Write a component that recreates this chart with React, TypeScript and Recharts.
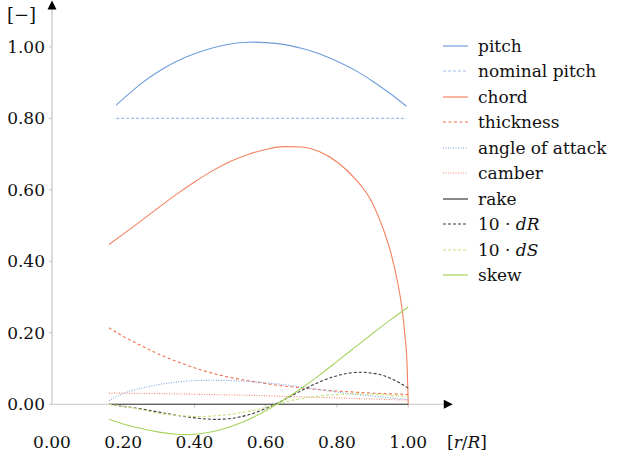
import React from 'react';
import { LineChart, Line, XAxis, YAxis, ReferenceLine, ReferenceDot, Legend } from 'recharts';

const FONT = '"DejaVu Serif", serif';
const FS = 17;
const AXIS = '#c4c4c4';

const xTicks = [0, 0.2, 0.4, 0.6, 0.8, 1.0];
const yTicks = [0, 0.2, 0.4, 0.6, 0.8, 1.0];

// pitch distribution
const rPitch = [0.18, 0.25, 0.3, 0.35, 0.4, 0.45, 0.5, 0.55, 0.6, 0.65, 0.7, 0.75, 0.8, 0.85, 0.9, 0.95, 0.995];
const pitch = [0.837, 0.897, 0.932, 0.96, 0.981, 0.997, 1.008, 1.013, 1.012, 1.007, 0.996, 0.981, 0.96, 0.935, 0.904, 0.869, 0.834];
const rNominal = [0.18, 0.995];
const nominalPitch = [0.8, 0.8];

// chord
const rChord = [0.16, 0.2, 0.25, 0.3, 0.35, 0.4, 0.45, 0.5, 0.55, 0.6, 0.65, 0.7, 0.75, 0.8, 0.85, 0.9, 0.93, 0.95, 0.97, 0.98, 0.99, 0.997, 1.0];
const chord = [0.447, 0.476, 0.513, 0.551, 0.588, 0.622, 0.653, 0.679, 0.699, 0.713, 0.721, 0.72, 0.707, 0.678, 0.632, 0.562, 0.49, 0.428, 0.342, 0.285, 0.2, 0.105, 0];

// section data
const rSection = [0.16, 0.2, 0.25, 0.3, 0.35, 0.4, 0.45, 0.5, 0.55, 0.6, 0.65, 0.7, 0.75, 0.8, 0.85, 0.9, 0.95, 1.0];
const thickness = [0.214, 0.19, 0.164, 0.14, 0.12, 0.102, 0.087, 0.075, 0.066, 0.058, 0.051, 0.046, 0.041, 0.037, 0.034, 0.031, 0.029, 0.027];
const angleOfAttack = [0.01, 0.03, 0.045, 0.055, 0.062, 0.066, 0.067, 0.066, 0.064, 0.06, 0.055, 0.048, 0.041, 0.034, 0.028, 0.023, 0.018, 0.013];
const camber = [0.031, 0.031, 0.03, 0.03, 0.029, 0.028, 0.027, 0.026, 0.025, 0.024, 0.022, 0.021, 0.019, 0.018, 0.016, 0.015, 0.013, 0.012];
const rake = [0, 0, 0, 0, 0, 0, 0, 0, 0, 0, 0, 0, 0, 0, 0, 0, 0, 0];
const dR10 = [0.0, -0.006, -0.013, -0.022, -0.031, -0.038, -0.042, -0.04, -0.03, -0.012, 0.012, 0.038, 0.062, 0.08, 0.089, 0.087, 0.073, 0.045];
const dS10 = [0.0, -0.006, -0.015, -0.025, -0.031, -0.034, -0.033, -0.028, -0.02, -0.009, 0.005, 0.016, 0.023, 0.027, 0.029, 0.028, 0.025, 0.02];
const skew = [-0.042, -0.055, -0.068, -0.078, -0.084, -0.084, -0.077, -0.063, -0.043, -0.018, 0.012, 0.045, 0.081, 0.12, 0.159, 0.198, 0.236, 0.272];

const zip = (rs: number[], vs: number[]) => rs.map((r, i) => ({ r, v: vs[i] }));

const series = [
  { name: 'pitch', label: <>pitch</>, color: '#6f9ddd', dash: undefined, curve: 'natural', data: zip(rPitch, pitch) },
  { name: 'nominal pitch', label: <>nominal pitch</>, color: '#9fc0ec', dash: '3 2', curve: 'linear', data: zip(rNominal, nominalPitch) },
  { name: 'chord', label: <>chord</>, color: '#f5825f', dash: undefined, curve: 'monotone', data: zip(rChord, chord) },
  { name: 'thickness', label: <>thickness</>, color: '#f0704c', dash: '3 2.5', curve: 'natural', data: zip(rSection, thickness) },
  { name: 'angle of attack', label: <>angle of attack</>, color: '#7ea8e4', dash: '1 1.5', curve: 'natural', data: zip(rSection, angleOfAttack) },
  { name: 'camber', label: <>camber</>, color: '#f48a6c', dash: '1 1.5', curve: 'natural', data: zip(rSection, camber) },
  { name: 'rake', label: <>rake</>, color: '#3a3a3a', dash: undefined, curve: 'linear', data: zip(rSection, rake) },
  { name: '10 · dR', label: <>10 · <i>dR</i></>, color: '#3a3a3a', dash: '3 2', curve: 'natural', data: zip(rSection, dR10) },
  { name: '10 · dS', label: <>10 · <i>dS</i></>, color: '#c9e27e', dash: '3 2', curve: 'natural', data: zip(rSection, dS10) },
  { name: 'skew', label: <>skew</>, color: '#a5d35c', dash: undefined, curve: 'natural', data: zip(rSection, skew) },
];

const XTick = (props: any) => (
  <text x={props.x} y={props.y + 8} textAnchor="middle" fontSize={FS} fontFamily={FONT} fill="#111">
    {props.payload.value.toFixed(2)}
  </text>
);

const LegendBox = () => (
  <div style={{ fontFamily: FONT, fontSize: FS, color: '#111' }}>
    {series.map((s) => (
      <div key={s.name} style={{ display: 'flex', alignItems: 'center', height: 25.5, whiteSpace: 'nowrap' }}>
        <svg width={38} height={10} style={{ flex: 'none' }}>
          <line x1={3} y1={5} x2={28} y2={5} stroke={s.color} strokeWidth={1.2} strokeDasharray={s.dash} />
        </svg>
        <span>{s.label}</span>
      </div>
    ))}
  </div>
);

const arrowRight = (p: any) => (
  <path d={`M${p.cx - 9},${p.cy - 4.5}L${p.cx},${p.cy}L${p.cx - 9},${p.cy + 4.5}Z`} fill="#000" />
);
const arrowUp = (p: any) => (
  <path d={`M${p.cx - 4.5},${p.cy + 9}L${p.cx},${p.cy}L${p.cx + 4.5},${p.cy + 9}Z`} fill="#000" />
);

export default function App() {
  return (
    <div style={{ position: 'absolute', left: 0, top: 0, width: 617, height: 461, background: '#fff' }}>
      <LineChart width={617} height={461} margin={{ top: 4, right: 166, bottom: 0, left: 0 }}>
        <XAxis
          type="number"
          dataKey="r"
          domain={[0, 1.12]}
          ticks={xTicks}
          axisLine={false}
          tickLine={false}
          tickSize={0}
          tickMargin={0}
          height={21}
          tick={<XTick />}
          allowDataOverflow
          label={{
            content: (p: any) => (
              <text x={p.viewBox.x + p.viewBox.width - 4} y={p.viewBox.y + 8} fontSize={FS} fontFamily={FONT} fill="#111">
                [<tspan fontStyle="italic">r</tspan>/<tspan fontStyle="italic">R</tspan>]
              </text>
            ),
          }}
        />
        <YAxis
          type="number"
          domain={[-0.1, 1.12]}
          ticks={yTicks}
          width={52}
          axisLine={false}
          tickLine={{ stroke: AXIS }}
          tickSize={3}
          tickMargin={4}
          allowDataOverflow
          tickFormatter={(v: number) => v.toFixed(2)}
          tick={{ fontSize: FS, fontFamily: FONT, fill: '#111' }}
          label={{
            content: (p: any) => (
              <text x={p.viewBox.x + 7} y={p.viewBox.y + 17} fontSize={FS + 1} fontFamily={FONT} fill="#111">
                [−]
              </text>
            ),
          }}
        />
        <ReferenceLine segment={[{ x: 0, y: 0 }, { x: 1.11, y: 0 }]} stroke={AXIS} strokeWidth={1.2} ifOverflow="visible" />
        <ReferenceLine segment={[{ x: 0, y: 0 }, { x: 0, y: 1.11 }]} stroke={AXIS} strokeWidth={1.2} ifOverflow="visible" />
        {xTicks.slice(1).map((t) => (
          <ReferenceLine key={t} segment={[{ x: t, y: 0 }, { x: t, y: -0.009 }]} stroke={AXIS} ifOverflow="visible" />
        ))}
        <ReferenceDot x={1.125} y={0} r={0} shape={arrowRight} ifOverflow="visible" />
        <ReferenceDot x={0} y={1.13} r={0} shape={arrowUp} ifOverflow="visible" />
        {series.map((s) => (
          <Line
            key={s.name}
            name={s.name}
            data={s.data}
            dataKey="v"
            type={s.curve as any}
            stroke={s.color}
            strokeWidth={1.1}
            strokeDasharray={s.dash}
            dot={false}
            activeDot={false}
            isAnimationActive={false}
          />
        ))}
        <Legend
          layout="vertical"
          align="center"
          verticalAlign="middle"
          content={<LegendBox />}
          wrapperStyle={{ left: 440, top: 33, width: 177, height: 260 }}
        />
      </LineChart>
    </div>
  );
}
